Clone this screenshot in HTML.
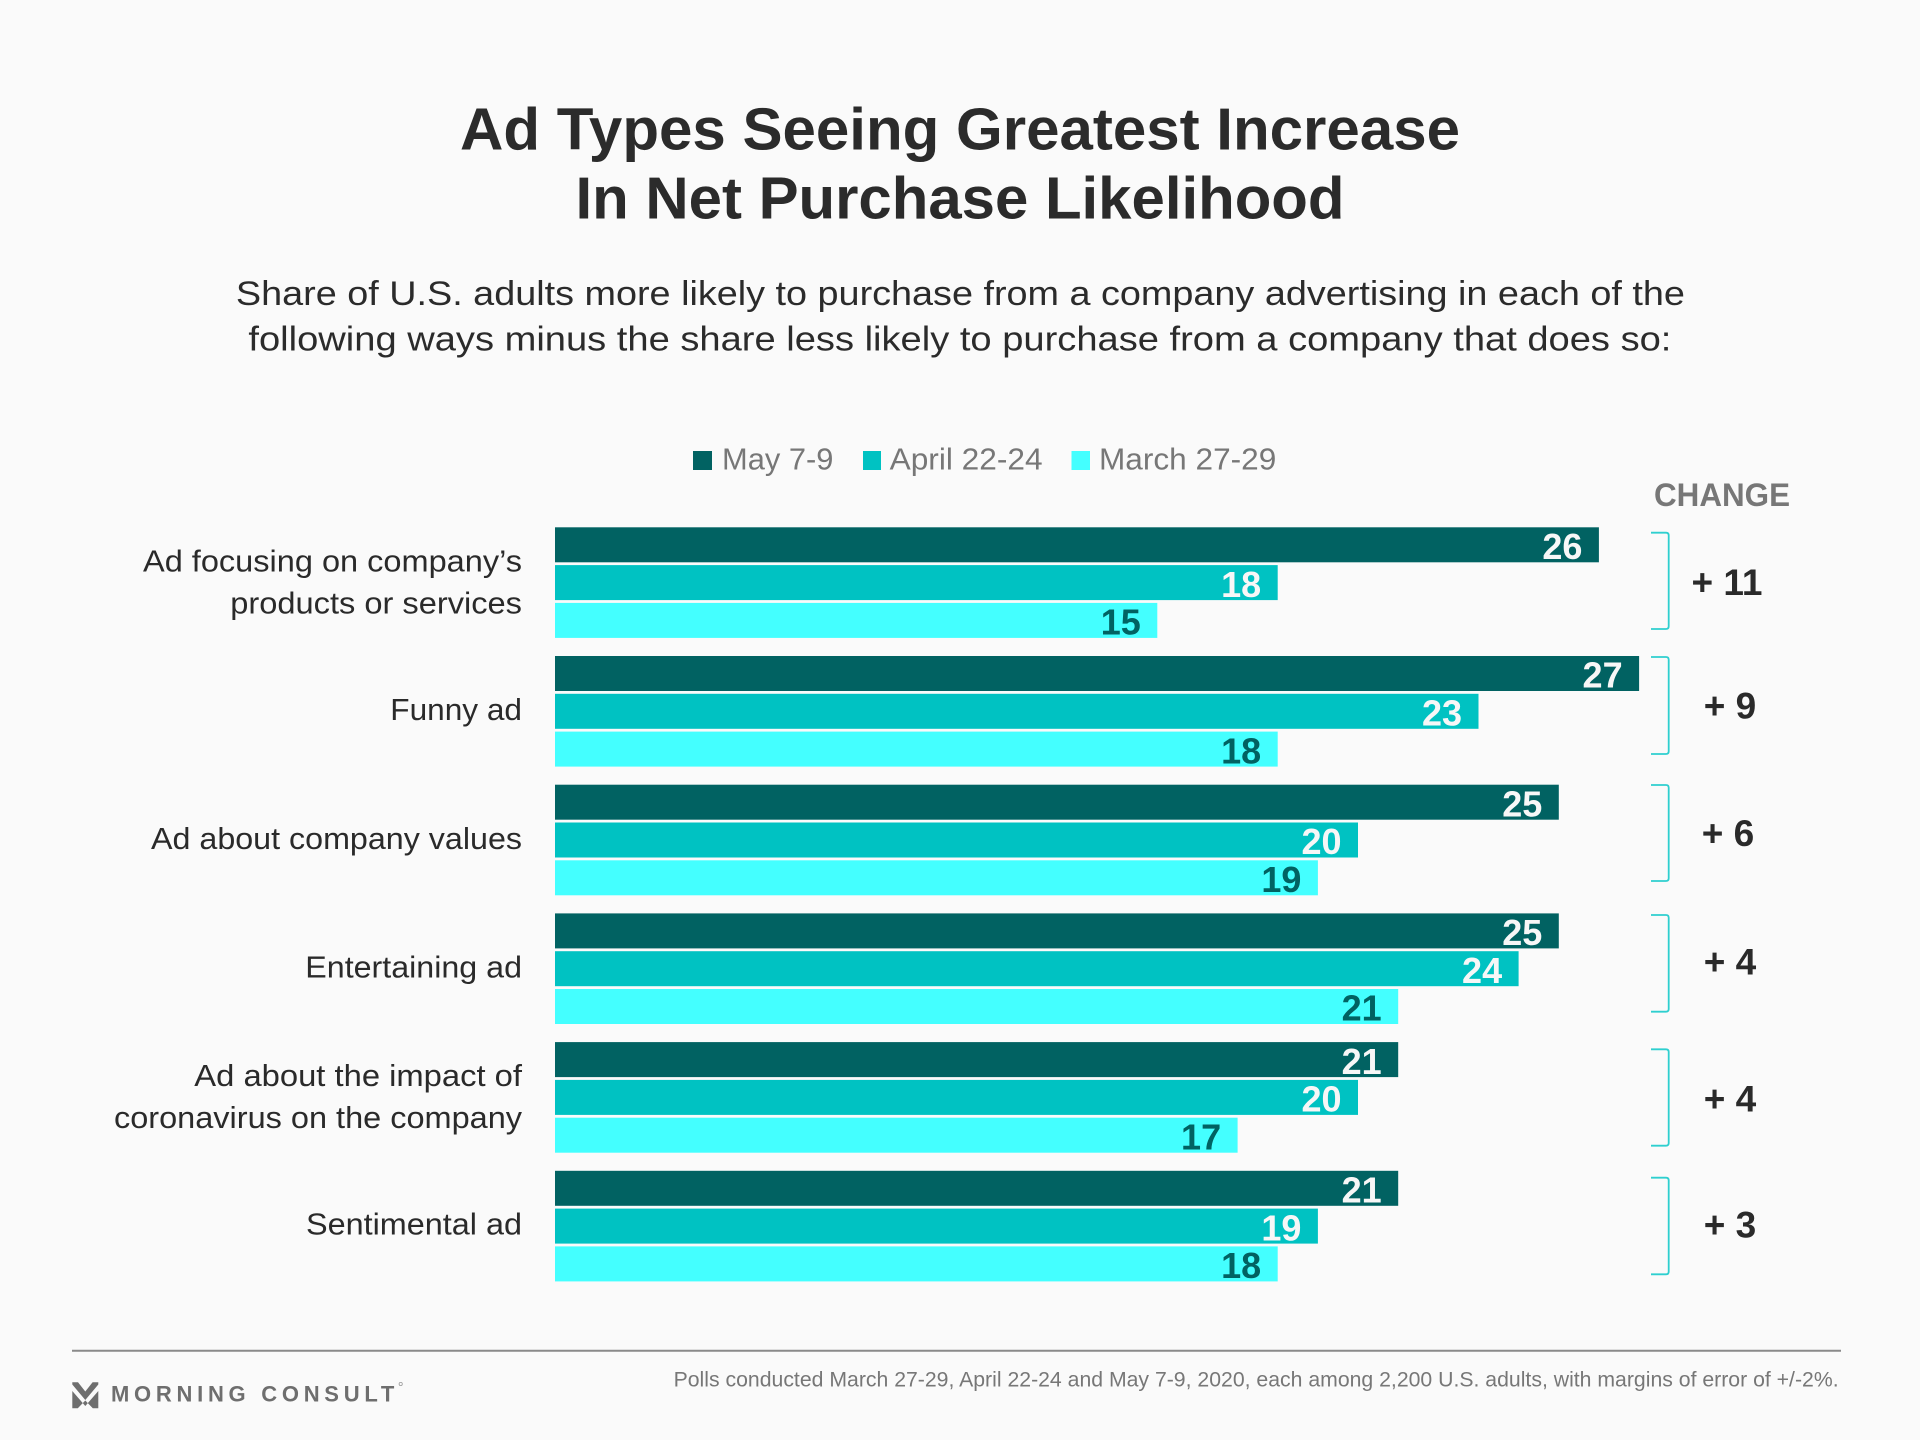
<!DOCTYPE html>
<html>
<head>
<meta charset="utf-8">
<style>
html,body{margin:0;padding:0;background:#fafafa;}
svg{display:block;}
text{font-family:"Liberation Sans",Arial,sans-serif;}
</style>
</head>
<body>
<svg width="1920" height="1440" viewBox="0 0 1920 1440" xmlns="http://www.w3.org/2000/svg">
<rect x="0" y="0" width="1920" height="1440" fill="#fafafa"/>

<!-- Title -->
<text x="960" y="149.3" text-anchor="middle" font-size="59" font-weight="bold" fill="#2b2b2b" textLength="1000" lengthAdjust="spacingAndGlyphs">Ad Types Seeing Greatest Increase</text>
<text x="960" y="218.3" text-anchor="middle" font-size="59" font-weight="bold" fill="#2b2b2b" textLength="769" lengthAdjust="spacingAndGlyphs">In Net Purchase Likelihood</text>

<!-- Subtitle -->
<text x="960.4" y="305" text-anchor="middle" font-size="34" fill="#2b2b2b" textLength="1449" lengthAdjust="spacingAndGlyphs">Share of U.S. adults more likely to purchase from a company advertising in each of the</text>
<text x="959.9" y="350.7" text-anchor="middle" font-size="34" fill="#2b2b2b" textLength="1423" lengthAdjust="spacingAndGlyphs">following ways minus the share less likely to purchase from a company that does so:</text>

<!-- Legend -->
<rect x="693" y="451" width="19" height="19" fill="#016262"/>
<text x="722" y="469.3" font-size="31" fill="#777777" textLength="111.4" lengthAdjust="spacingAndGlyphs">May 7-9</text>
<rect x="863" y="451" width="18" height="19" fill="#00c2c2"/>
<text x="889.6" y="469.3" font-size="31" fill="#777777" textLength="153" lengthAdjust="spacingAndGlyphs">April 22-24</text>
<rect x="1071.5" y="451" width="18.5" height="19" fill="#44ffff"/>
<text x="1099" y="469.3" font-size="31" fill="#777777" textLength="177.3" lengthAdjust="spacingAndGlyphs">March 27-29</text>

<!-- CHANGE header -->
<text x="1654" y="506" font-size="32" font-weight="bold" fill="#777777" textLength="136" lengthAdjust="spacingAndGlyphs">CHANGE</text>

<!-- Category labels -->
<g font-size="31" fill="#2a2a2a" text-anchor="end">
<text x="522" y="571.5" textLength="379" lengthAdjust="spacingAndGlyphs">Ad focusing on company’s</text>
<text x="522" y="613.5" textLength="291.7" lengthAdjust="spacingAndGlyphs">products or services</text>
<text x="522" y="720" textLength="131.7" lengthAdjust="spacingAndGlyphs">Funny ad</text>
<text x="522" y="849" textLength="371" lengthAdjust="spacingAndGlyphs">Ad about company values</text>
<text x="522" y="977.4" textLength="216.7" lengthAdjust="spacingAndGlyphs">Entertaining ad</text>
<text x="522" y="1085.8" textLength="327.7" lengthAdjust="spacingAndGlyphs">Ad about the impact of</text>
<text x="522" y="1128" textLength="408" lengthAdjust="spacingAndGlyphs">coronavirus on the company</text>
<text x="522" y="1234.5" textLength="216" lengthAdjust="spacingAndGlyphs">Sentimental ad</text>
</g>

<!-- Bars: unit 40.15, zero 555 -->
<!-- Group 1 top 527.3 -->
<rect x="555" y="527.3" width="1043.9" height="35" fill="#016262"/>
<rect x="555" y="565.1" width="722.7" height="35" fill="#00c2c2"/>
<rect x="555" y="602.9" width="602.3" height="35" fill="#44ffff"/>
<!-- Group 2 top 656 -->
<rect x="555" y="656" width="1084.1" height="35" fill="#016262"/>
<rect x="555" y="693.8" width="923.5" height="35" fill="#00c2c2"/>
<rect x="555" y="731.6" width="722.7" height="35" fill="#44ffff"/>
<!-- Group 3 top 784.7 -->
<rect x="555" y="784.7" width="1003.8" height="35" fill="#016262"/>
<rect x="555" y="822.5" width="803" height="35" fill="#00c2c2"/>
<rect x="555" y="860.3" width="762.9" height="35" fill="#44ffff"/>
<!-- Group 4 top 913.4 -->
<rect x="555" y="913.4" width="1003.8" height="35" fill="#016262"/>
<rect x="555" y="951.2" width="963.6" height="35" fill="#00c2c2"/>
<rect x="555" y="989" width="843.2" height="35" fill="#44ffff"/>
<!-- Group 5 top 1042.1 -->
<rect x="555" y="1042.1" width="843.2" height="35" fill="#016262"/>
<rect x="555" y="1079.9" width="803" height="35" fill="#00c2c2"/>
<rect x="555" y="1117.7" width="682.6" height="35" fill="#44ffff"/>
<!-- Group 6 top 1170.8 -->
<rect x="555" y="1170.8" width="843.2" height="35" fill="#016262"/>
<rect x="555" y="1208.6" width="762.9" height="35" fill="#00c2c2"/>
<rect x="555" y="1246.4" width="722.7" height="35" fill="#44ffff"/>

<!-- Value labels -->
<g font-size="36" font-weight="bold" text-anchor="end">
<text x="1582.4" y="559" fill="#f7f7f7">26</text>
<text x="1261.2" y="596.8" fill="#f7f7f7">18</text>
<text x="1140.8" y="634.6" fill="#016262">15</text>

<text x="1622.6" y="687.7" fill="#f7f7f7">27</text>
<text x="1462" y="725.5" fill="#f7f7f7">23</text>
<text x="1261.2" y="763.3" fill="#016262">18</text>

<text x="1542.3" y="816.4" fill="#f7f7f7">25</text>
<text x="1341.5" y="854.2" fill="#f7f7f7">20</text>
<text x="1301.4" y="892" fill="#016262">19</text>

<text x="1542.3" y="945.1" fill="#f7f7f7">25</text>
<text x="1502.1" y="982.9" fill="#f7f7f7">24</text>
<text x="1381.7" y="1020.7" fill="#016262">21</text>

<text x="1381.7" y="1073.8" fill="#f7f7f7">21</text>
<text x="1341.5" y="1111.6" fill="#f7f7f7">20</text>
<text x="1221.1" y="1149.4" fill="#016262">17</text>

<text x="1381.7" y="1202.5" fill="#f7f7f7">21</text>
<text x="1301.4" y="1240.3" fill="#f7f7f7">19</text>
<text x="1261.2" y="1278.1" fill="#016262">18</text>
</g>

<!-- Brackets -->
<g fill="none" stroke="#2ecfcf" stroke-width="1.8">
<path d="M1651 532.7 H1666 Q1668.7 532.7 1668.7 535.4 V626.3 Q1668.7 629 1666 629 H1651"/>
<path d="M1651 657 H1666 Q1668.7 657 1668.7 659.7 V751.3 Q1668.7 754 1666 754 H1651"/>
<path d="M1651 785 H1666 Q1668.7 785 1668.7 787.7 V878.3 Q1668.7 881 1666 881 H1651"/>
<path d="M1651 915 H1666 Q1668.7 915 1668.7 917.7 V1009 Q1668.7 1011.7 1666 1011.7 H1651"/>
<path d="M1651 1049.3 H1666 Q1668.7 1049.3 1668.7 1052 V1143 Q1668.7 1145.7 1666 1145.7 H1651"/>
<path d="M1651 1177.7 H1666 Q1668.7 1177.7 1668.7 1180.4 V1271.6 Q1668.7 1274.3 1666 1274.3 H1651"/>
</g>

<!-- Change labels -->
<g font-size="37" font-weight="bold" fill="#2a2a2a" text-anchor="middle">
<text x="1727" y="595">+ 11</text>
<text x="1730" y="718.3">+ 9</text>
<text x="1728" y="846">+ 6</text>
<text x="1730" y="974.3">+ 4</text>
<text x="1730" y="1111.7">+ 4</text>
<text x="1730" y="1237.7">+ 3</text>
</g>

<!-- Footer line -->
<line x1="72" y1="1350.7" x2="1841" y2="1350.7" stroke="#8a8a8a" stroke-width="2"/>

<!-- Logo -->
<g fill="#6e6e6e">
<polygon points="72.3,1382.3 78,1382.3 85.3,1391.5 92.6,1382.3 98.3,1382.3 98.3,1384.5 85.3,1400 72.3,1384.5"/>
<polygon points="72.3,1391 85.3,1406 98.3,1391 98.3,1408.3 92.8,1408.3 85.3,1400.5 77.8,1408.3 72.3,1408.3"/>
</g>
<text x="111" y="1401.7" font-size="22" font-weight="bold" fill="#6e6e6e" textLength="283.3" lengthAdjust="spacing">MORNING CONSULT</text>
<circle cx="400.7" cy="1384" r="1.6" fill="none" stroke="#9a9a9a" stroke-width="0.8"/>

<!-- Footer note -->
<text x="673.6" y="1386.7" font-size="21" fill="#777777" textLength="1165" lengthAdjust="spacingAndGlyphs">Polls conducted March 27-29, April 22-24 and May 7-9, 2020, each among 2,200 U.S. adults, with margins of error of +/-2%.</text>
</svg>
</body>
</html>
